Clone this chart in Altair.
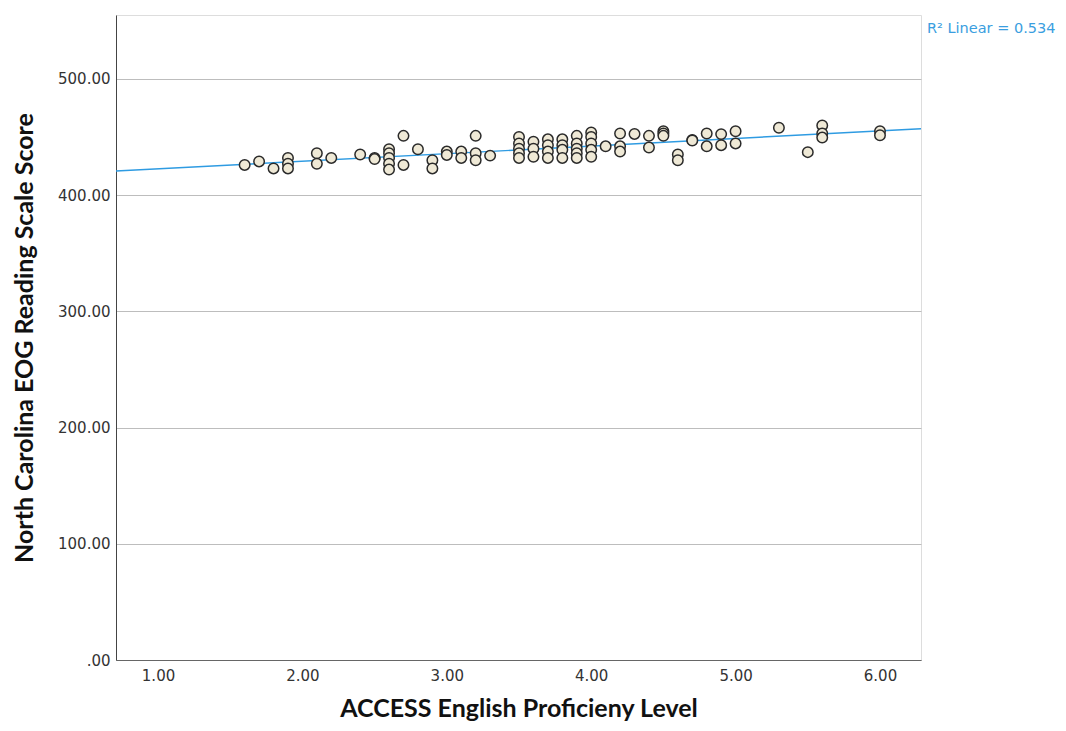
import altair as alt
import pandas as pd

# ACCESS level (x) and EOG reading score (y)
access = [1.6, 1.7, 1.8, 1.9, 1.9, 1.9, 2.1, 2.1, 2.2, 2.4, 2.5, 2.5,
          2.6, 2.6, 2.6, 2.6, 2.6, 2.7, 2.7, 2.8, 2.9, 2.9, 3.0, 3.0,
          3.1, 3.1, 3.2, 3.2, 3.2, 3.3,
          3.5, 3.5, 3.5, 3.5, 3.5, 3.6, 3.6, 3.6, 3.7, 3.7, 3.7, 3.7,
          3.8, 3.8, 3.8, 3.8, 3.9, 3.9, 3.9, 3.9, 3.9,
          4.0, 4.0, 4.0, 4.0, 4.0, 4.1, 4.2, 4.2, 4.2, 4.3, 4.4, 4.4,
          4.5, 4.5, 4.5, 4.6, 4.6, 4.7, 4.7, 4.8, 4.8, 4.9, 4.9,
          5.0, 5.0, 5.3, 5.5, 5.6, 5.6, 5.6, 6.0, 6.0]
score = [426, 429, 423, 432, 427, 423, 436, 427, 432, 435, 432, 431,
         439.5, 436, 432, 427, 422, 451, 426, 439.5, 430, 423, 437.5, 434.6,
         437.5, 432, 451, 436, 430, 434,
         450, 444.5, 440, 436, 432, 446, 440, 433, 448, 443, 437.5, 432,
         448, 443, 439, 432, 451, 444.5, 440, 436, 432,
         454, 450, 444.5, 439, 433, 442, 453, 442, 437.5, 452.7, 451, 441,
         455, 453, 451, 435, 430, 447.5, 447, 453, 442, 452.5, 443,
         455, 444.5, 458, 437, 460, 453, 449.5, 455, 451.5]

x_ticks = [1, 2, 3, 4, 5, 6]
y_ticks = [0, 100, 200, 300, 400, 500]
x_domain = [0.709, 6.284]
y_domain = [0, 555]
r2_label = ["R² Linear = 0.534"]

df = pd.DataFrame({"x": access, "y": score})

FONT = "Lato"
LFONT = "DejaVu Sans"

xs = alt.Scale(domain=x_domain, nice=False, zero=False)
ys = alt.Scale(domain=y_domain, nice=False)

xax = alt.Axis(values=x_ticks, format=".2f", grid=False, ticks=False,
               title="ACCESS English Proficieny Level",
               labelFontSize=15, labelColor="#333", labelPadding=8,
               labelFont=LFONT,
               titleFont=FONT, titleFontSize=25, titleFontWeight="bold",
               titleColor="#111", titlePadding=13,
               domainColor="#666", domainWidth=1)
yax = alt.Axis(values=y_ticks, grid=True, ticks=False,
               labelExpr="datum.value == 0 ? '.00' : format(datum.value, '.2f')",
               title="North Carolina EOG Reading Scale Score",
               labelFontSize=15, labelColor="#333", labelPadding=6,
               labelFont=LFONT,
               titleFont=FONT, titleFontSize=25, titleFontWeight="bold",
               titleColor="#111", titlePadding=20,
               gridColor="#bdbdbd", gridWidth=1,
               domainColor="#444", domainWidth=1)

base = alt.Chart(df)

line = base.transform_regression("x", "y", extent=x_domain).mark_line(
    color="#2e9be2", strokeWidth=1.4, clip=True
).encode(x=alt.X("x:Q", scale=xs, axis=xax), y=alt.Y("y:Q", scale=ys, axis=yax))

pts = base.mark_point(
    shape="circle", filled=True, fill="#efe9d6", stroke="#2a2a2a",
    strokeWidth=1.5, size=110, opacity=1
).encode(x=alt.X("x:Q", scale=xs), y=alt.Y("y:Q", scale=ys))

lab = alt.Chart(pd.DataFrame({"t": r2_label})).mark_text(
    align="left", baseline="middle", fontSize=14.5, color="#3a9ee0",
    font=LFONT
).encode(text="t:N", x=alt.value(811), y=alt.value(14))

chart = alt.layer(line, pts, lab).properties(
    width=805, height=645,
    autosize=alt.AutoSizeParams(type="none"),
    padding={"left": 108, "top": 7, "right": 137, "bottom": 63},
).configure_view(stroke=None).configure(background="white")

chart.save("out.html", embed_options={"renderer": "svg", "actions": False})
